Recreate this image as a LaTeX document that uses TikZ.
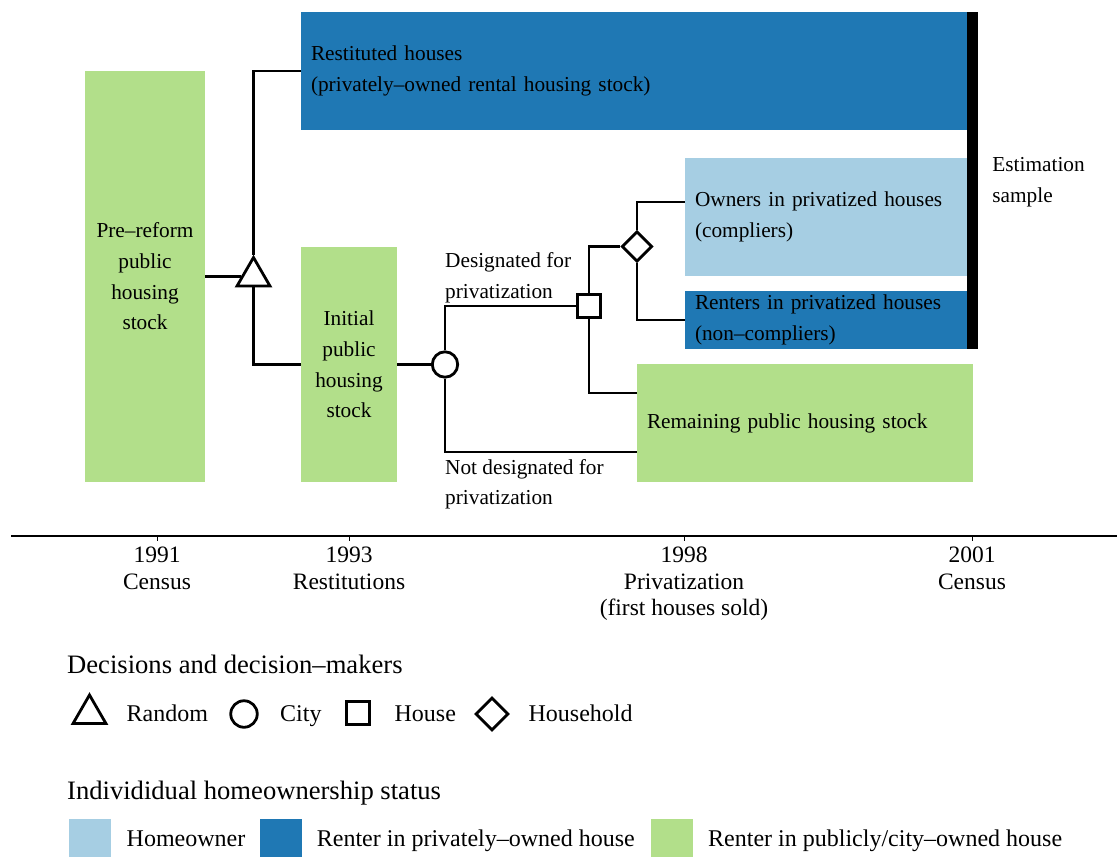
\documentclass[tikz,border=0pt]{standalone}
\usepackage{fontspec}
\setmainfont{Liberation Serif}
\usetikzlibrary{shapes.geometric,calc,positioning}
\definecolor{ownerblue}{HTML}{A6CEE3}
\definecolor{renterblue}{HTML}{1F78B4}
\definecolor{publicgreen}{HTML}{B2DF8A}
\tikzset{
	stockbox/.style={inner xsep=10pt, inner ysep=0pt, outer sep=0pt, font=\fontsize{21.3}{30.7}\selectfont},
	boxtext/.style={inner sep=0pt, font=\fontsize{21.3}{30.7}\selectfont},
	link/.style={line width=2.6pt},
	decision/.style={draw, fill=white, line width=2.8pt, inner sep=0pt},
	randomnode/.style={decision, regular polygon, regular polygon sides=3, minimum size=38pt},
	citynode/.style={decision, circle, minimum size=25.4pt},
	housenode/.style={decision, rectangle, minimum size=22.5pt},
	hhnode/.style={decision, diamond, minimum size=30.5pt},
	yearlabel/.style={inner sep=0pt, anchor=north, align=center, font=\fontsize{23.5}{26.5}\selectfont},
	keytitle/.style={inner sep=0pt, anchor=base west, font=\fontsize{26.6}{30}\selectfont},
	keytext/.style={inner sep=0pt, anchor=base west, font=\fontsize{24}{28}\selectfont},
	keybox/.style={inner sep=0pt, anchor=north west, minimum width=42pt, minimum height=38pt}
}

\begin{document}
\begin{tikzpicture}[x=1pt,y=-1pt]
	\useasboundingbox (0,0) rectangle (1117,857);
	% stocks
	\node[stockbox, fill=publicgreen, minimum width=120pt, minimum height=411pt, align=center] (pre) at (145,276.5) {Pre–reform\\public\\housing\\stock};
	\node[stockbox, fill=publicgreen, minimum width=96pt, minimum height=235pt, inner xsep=0pt, align=center] (init) at (349,364.5) {Initial\\public\\housing\\stock};
	\node[stockbox, fill=renterblue, text width=646pt, minimum height=118pt, align=left] (rest) at (634,71) {Restituted houses\\(privately–owned rental housing stock)};
	\node[stockbox, fill=ownerblue, text width=262pt, minimum height=118pt, align=left] (own) at (826,217) {Owners in privatized houses\\(compliers)};
	\node[stockbox, fill=renterblue, text width=262pt, minimum height=58pt, align=left] (rent) at (826,320) {Renters in privatized houses\\(non–compliers)};
	\node[stockbox, fill=publicgreen, text width=316pt, minimum height=118pt, align=left] (rem) at (805,423) {Remaining public housing stock};
	\node[fill=black, inner sep=0pt, minimum width=11pt, minimum height=337pt] (bar) at (972.5,180.5) {};
	\node[boxtext, align=left, right=14pt of bar, yshift=-2pt] (est) {Estimation\\sample};
	% decisions
	\node[randomnode] (tri) at (253.5,276.5) {};
	\node[citynode] (city) at (445,364.5) {};
	\node[housenode] (house) at (589,306) {};
	\node[hhnode] (hh) at (637,246.5) {};
	\draw[link] (pre.east) -- (tri);
	\draw[link] (tri.corner 1) |- (rest.west);
	\draw[link] (tri.south) |- (init.west);
	\draw[link] (init.east) -- (city);
	\draw[link] (city.north) |- (house.west);
	\draw[link] (city.south) |- ($(rem.south west)!0.254!(rem.north west)$);
	\draw[link] (house.north) |- (hh.west);
	\draw[link] (house.south) |- ($(rem.south west)!0.754!(rem.north west)$);
	\draw[link] (hh.north) |- ($(own.north west)!0.373!(own.south west)$);
	\draw[link] (hh.south) |- (rent.west);
	\node[boxtext, align=left, anchor=south west] (desig) at (445,303) {Designated for\\privatization};
	\node[boxtext, align=left, anchor=north west] (notdesig) at (445,459) {Not designated for\\privatization};
	% time line
	\draw[line width=2.4pt] (11,536) -- (1117,536);
	\draw[line width=1pt] (157,536) -- (157,541);
	\draw[line width=1pt] (349,536) -- (349,541);
	\draw[line width=1pt] (684,536) -- (684,541);
	\draw[line width=1pt] (972,536) -- (972,541);
	\node[yearlabel] (y1991) at (157,547) {1991\\Census};
	\node[yearlabel] (y1993) at (349,547) {1993\\Restitutions};
	\node[yearlabel] (y1998) at (684,547) {1998\\Privatization\\(first houses sold)};
	\node[yearlabel] (y2001) at (972,547) {2001\\Census};
	% legend
	\node[keytitle] (keydec) at (67,673) {Decisions and decision–makers};
	\node[randomnode] (keytri) at (89.5,714) {};
	\node[keytext] (keyrandom) at (126.5,721) {Random};
	\node[citynode, minimum size=26.5pt] (keycirc) at (244,714) {};
	\node[keytext] (keycity) at (280,721) {City};
	\node[housenode, minimum size=23pt] (keysq) at (357.7,713) {};
	\node[keytext] (keyhouse) at (394.4,721) {House};
	\node[hhnode, minimum size=33pt] (keydia) at (492,714) {};
	\node[keytext] (keyhh) at (528.4,721) {Household};
	\node[keytitle] (keystat) at (67,799) {Individidual homeownership status};
	\node[keybox, fill=ownerblue] (keyown) at (68.4,819) {};
	\node[keytext] (keyowntxt) at (126.5,846.7) {Homeowner};
	\node[keybox, fill=renterblue] (keyrent) at (259.5,819) {};
	\node[keytext] (keyrenttxt) at (316.7,846.7) {Renter in privately–owned house};
	\node[keybox, fill=publicgreen] (keypub) at (650.5,819) {};
	\node[keytext] (keypubtxt) at (708,846.7) {Renter in publicly/city–owned house};
\end{tikzpicture}
\end{document}
